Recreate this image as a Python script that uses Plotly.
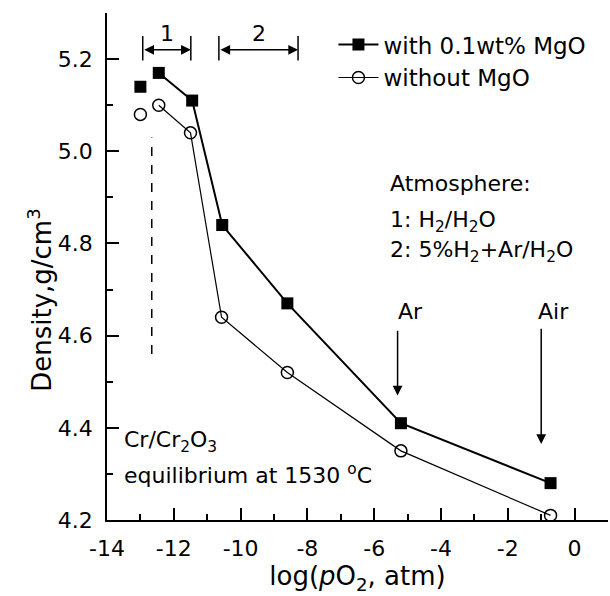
import plotly.graph_objects as go

# ---- data ----
x_mgo = [-13.0, -12.45, -11.45, -10.55, -8.6, -5.2, -0.72]
y_mgo = [5.14, 5.17, 5.11, 4.84, 4.67, 4.41, 4.28]
x_nomgo = [-13.0, -12.45, -11.5, -10.57, -8.6, -5.2, -0.72]
y_nomgo = [5.08, 5.10, 5.04, 4.64, 4.52, 4.35, 4.21]
x_tickvals = [-14, -12, -10, -8, -6, -4, -2, 0]
x_ticktext = ["-14", "-12", "-10", "-8", "-6", "-4", "-2", "0"]
y_tickvals = [4.2, 4.4, 4.6, 4.8, 5.0, 5.2]
y_ticktext = ["4.2", "4.4", "4.6", "4.8", "5.0", "5.2"]

FONT = "DejaVu Sans"
fig = go.Figure()

# series with MgO (first point stands alone)
fig.add_trace(go.Scatter(x=x_mgo[1:], y=y_mgo[1:], mode="lines+markers",
                         name="with 0.1wt% MgO",
                         line=dict(color="black", width=2),
                         marker=dict(symbol="square", size=12, color="black")))
fig.add_trace(go.Scatter(x=x_mgo[:1], y=y_mgo[:1], mode="markers", showlegend=False,
                         marker=dict(symbol="square", size=12, color="black")))
# series without MgO
fig.add_trace(go.Scatter(x=x_nomgo[1:], y=y_nomgo[1:], mode="lines+markers",
                         name="without MgO",
                         line=dict(color="black", width=1.2),
                         marker=dict(symbol="circle-open", size=12, color="black",
                                     line=dict(width=1.5, color="black"))))
fig.add_trace(go.Scatter(x=x_nomgo[:1], y=y_nomgo[:1], mode="markers", showlegend=False,
                         marker=dict(symbol="circle-open", size=12, color="black",
                                     line=dict(width=1.5, color="black"))))

annots = []
def txt(x, y, s, size=22, xanchor="left"):
    annots.append(dict(x=x, y=y, xref="x", yref="y", text=s, showarrow=False,
                       xanchor=xanchor, yanchor="middle",
                       font=dict(family=FONT, size=size, color="black")))

txt(-5.6, 4.93, "Atmosphere:")
txt(-5.6, 4.848, "1: H<sub>2</sub>/H<sub>2</sub>O")
txt(-5.6, 4.782, "2: 5%H<sub>2</sub>+Ar/H<sub>2</sub>O")
txt(-5.36, 4.653, "Ar")
txt(-1.16, 4.653, "Air")
txt(-13.55, 4.37, "Cr/Cr<sub>2</sub>O<sub>3</sub>")
txt(-13.55, 4.3, "equilibrium at 1530 <sup>o</sup>C")
txt(-12.2, 5.255, "1", xanchor="center")
txt(-9.45, 5.255, "2", xanchor="center")

# y-axis title (placed as in the reference, below the vertical centre)
annots.append(dict(x=-0.134, y=0.434, xref="paper", yref="paper",
                   text="Density,g/cm<sup>3</sup>", textangle=-90, showarrow=False,
                   xanchor="center", yanchor="middle",
                   font=dict(family=FONT, size=26, color="black")))

# arrows Ar / Air
for xa, y0, y1 in [(-5.3, 4.614, 4.47), (-1.0, 4.618, 4.365)]:
    annots.append(dict(x=xa, y=y1, ax=xa, ay=y0, xref="x", yref="y", axref="x", ayref="y",
                       text="", showarrow=True, arrowhead=2, arrowsize=1.3, arrowwidth=1.5,
                       arrowcolor="black"))
# range brackets
shapes = []
for xl, xr in [(-12.93, -11.49), (-10.65, -8.28)]:
    annots.append(dict(x=xr, y=5.22, ax=xl, ay=5.22, xref="x", yref="y", axref="x", ayref="y",
                       text="", showarrow=True, arrowhead=2, arrowside="end+start",
                       arrowsize=1.3, arrowwidth=1.5, arrowcolor="black"))
    for xv in (xl, xr):
        shapes.append(dict(type="line", xref="x", yref="y", x0=xv, x1=xv, y0=5.197, y1=5.25,
                           line=dict(color="black", width=1.5)))
# dashed equilibrium line
shapes.append(dict(type="line", xref="x", yref="y", x0=-12.66, x1=-12.66, y0=4.56, y1=5.03,
                   line=dict(color="black", width=1.5, dash="dash")))

fig.update_layout(
    width=610, height=596,
    margin=dict(l=107, r=2, t=13, b=76),
    paper_bgcolor="white", plot_bgcolor="white",
    font=dict(family=FONT, size=22, color="black"),
    annotations=annots, shapes=shapes,
    legend=dict(x=0.452, y=0.98, xanchor="left", yanchor="top",
                bgcolor="rgba(0,0,0,0)", font=dict(family=FONT, size=23),
                tracegroupgap=0, itemwidth=40),
    showlegend=True,
)
fig.update_xaxes(range=[-14, 1], showline=True, linecolor="black", linewidth=1.5,
                 showgrid=False, zeroline=False, ticks="inside", ticklen=12, tickwidth=1.5,
                 tickcolor="black", tickvals=x_tickvals, ticktext=x_ticktext,
                 ticklabelstandoff=8, tickfont=dict(family=FONT, size=22),
                 minor=dict(ticks="inside", ticklen=6, tickwidth=1.5, tickcolor="black",
                            dtick=1, tick0=0, showgrid=False),
                 title=dict(text="log(<i>p</i>O<sub>2</sub>, atm)",
                            font=dict(family=FONT, size=26), standoff=4))
fig.update_yaxes(range=[4.2, 5.3], showline=True, linecolor="black", linewidth=1.5,
                 showgrid=False, zeroline=False, ticks="inside", ticklen=12, tickwidth=1.5,
                 tickcolor="black", tickvals=y_tickvals, ticktext=y_ticktext,
                 ticklabelstandoff=8, tickfont=dict(family=FONT, size=22),
                 minor=dict(ticks="inside", ticklen=6, tickwidth=1.5, tickcolor="black",
                            dtick=0.1, tick0=4.2, showgrid=False))

fig.write_html("out.html")
